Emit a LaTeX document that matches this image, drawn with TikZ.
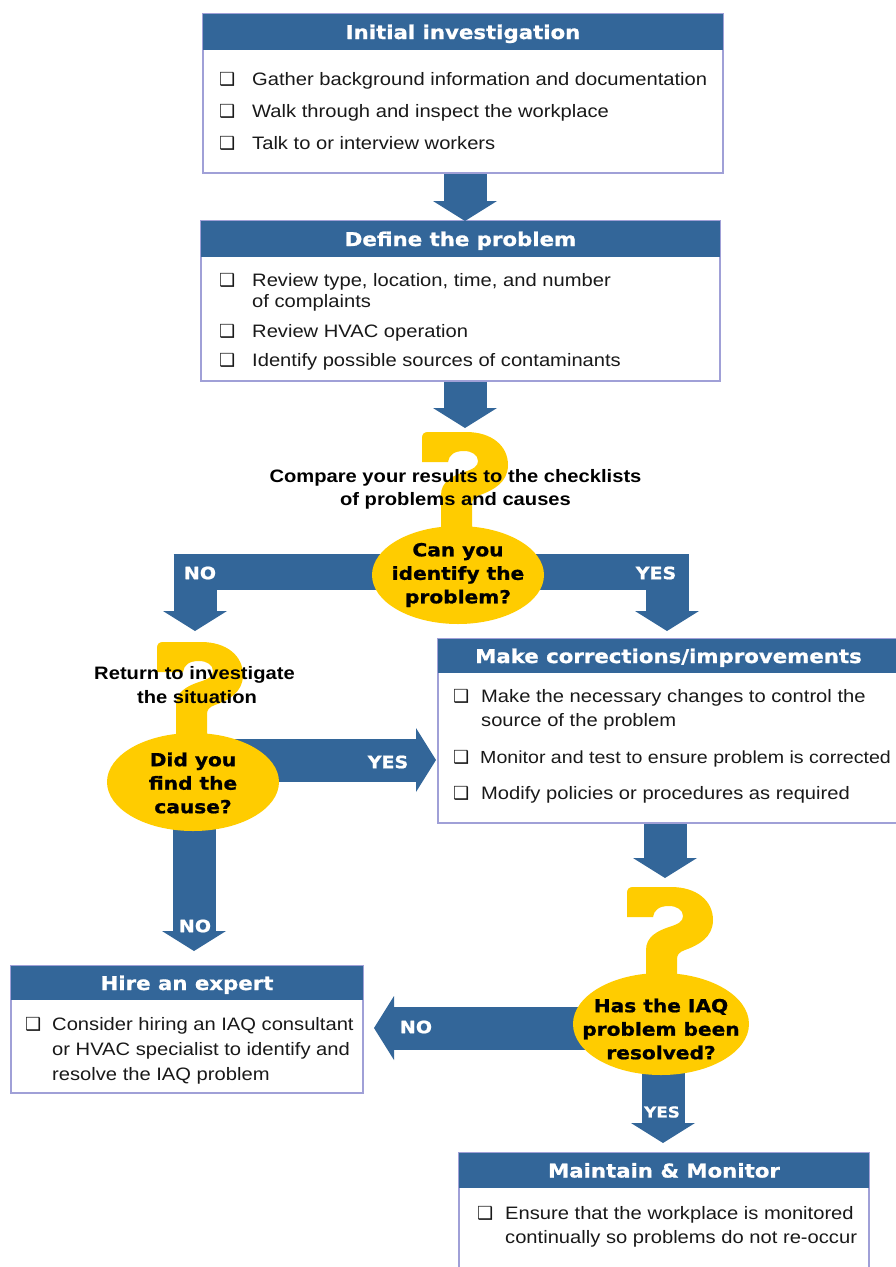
\documentclass[tikz,border=0pt]{standalone}
\usepackage{fontspec}
\setmainfont{Liberation Sans}[FakeStretch=1.12]
\newfontfamily\hdfont{DejaVu Sans}[FakeStretch=1.12, BoldFeatures={FakeBold=1}]
\newfontfamily\symfont{DejaVu Sans}
\usetikzlibrary{shapes.geometric,arrows.meta,calc}
\definecolor{hdblue}{RGB}{51,102,153}
\definecolor{qyellow}{RGB}{255,204,0}
\definecolor{boxline}{RGB}{160,160,215}
\definecolor{bodytext}{RGB}{25,25,25}
\tikzset{
 boxbody/.style={draw=boxline, line width=1.5pt, fill=white, rectangle, inner sep=0pt},
 boxhead/.style={fill=hdblue, rectangle, inner sep=0pt, text=white, font=\hdfont\bfseries\fontsize{19}{22}\selectfont, text height=15pt, text depth=1pt},
 item/.style={anchor=base west, inner sep=0pt, text=bodytext, font=\fontsize{18}{22}\selectfont},
 cb/.style={anchor=base west, inner sep=0pt, text=bodytext, font=\symfont\fontsize{18}{20}\selectfont},
 decision/.style={ellipse, fill=qyellow, inner sep=0pt},
 dectext/.style={align=center, inner sep=0pt, font=\hdfont\bfseries\fontsize{18}{23.5}\selectfont},
 qtext/.style={anchor=base, inner sep=0pt, text=black, font=\bfseries\fontsize{18}{23}\selectfont},
 blockarrow/.style={draw=hdblue, line width=43pt, line join=miter, -{Triangle[length=20pt,width=64pt,line width=0pt]}},
 band/.style={draw=hdblue, line width=36pt},
 lbl/.style={text=white, inner sep=0pt, font=\hdfont\bfseries\fontsize{17}{20}\selectfont},
 qmark/.pic={\fill[qyellow] (0,30) -- (0,6) .. controls (0,2) and (2,0) .. (6,0) -- (44,0)
   .. controls (70,0) and (86,14) .. (86,33) .. controls (86,50) and (72,58) .. (58,63)
   .. controls (52,65) and (50,68) .. (50,72) -- (50,98) -- (19,98) -- (19,63)
   .. controls (19,50) and (30,44) .. (42,40) .. controls (52,37) and (56,34) .. (56,29)
   .. controls (56,23) and (50,19) .. (42,19) .. controls (32,19) and (27,23) .. (26,30) -- cycle;}
}
\begin{document}
\begin{tikzpicture}[x=1pt,y=-1pt]
\useasboundingbox (0,0) rectangle (896,1267);
\clip (0,0) rectangle (896,1267);

% ---------- boxes ----------
\node[boxbody, minimum width=520pt, minimum height=159pt] (b1) at (463,93.5) {};
\node[boxhead, minimum width=520pt, minimum height=36pt] (h1) at (463,32) {Initial investigation};
\node[cb] (b1c1) at (219,85) {❑}; \node[item] (b1i1) at (252,85) {Gather background information and documentation};
\node[cb] (b1c2) at (219,117) {❑}; \node[item] (b1i2) at (252,117) {Walk through and inspect the workplace};
\node[cb] (b1c3) at (219,149) {❑}; \node[item] (b1i3) at (252,149) {Talk to or interview workers};

\node[boxbody, minimum width=519pt, minimum height=160pt] (b2) at (460.5,301) {};
\node[boxhead, minimum width=519pt, minimum height=36pt] (h2) at (460.5,239) {Define the problem};
\node[cb] (b2c1) at (219,286) {❑}; \node[item] (b2i1) at (252,286) {Review type, location, time, and number};
\node[item] (b2i1b) at (252,307) {of complaints};
\node[cb] (b2c2) at (219,337) {❑}; \node[item] (b2i2) at (252,337) {Review HVAC operation};
\node[cb] (b2c3) at (219,366) {❑}; \node[item] (b2i3) at (252,366) {Identify possible sources of contaminants};

\node[boxbody, minimum width=461pt, minimum height=184pt] (b3) at (668.5,731) {};
\node[boxhead, minimum width=461pt, minimum height=34pt] (h3) at (668.5,656) {Make corrections/improvements};
\node[cb] (b3c1) at (453,702) {❑}; \node[item] (b3i1) at (481,702) {Make the necessary changes to control the};
\node[item] (b3i1b) at (481,726) {source of the problem};
\node[cb] (b3c2) at (453,763) {❑}; \node[item, font=\fontsize{17.5}{22}\selectfont] (b3i2) at (480,763) {Monitor and test to ensure problem is corrected};
\node[cb] (b3c3) at (453,799) {❑}; \node[item] (b3i3) at (481,799) {Modify policies or procedures as required};

\node[boxbody, minimum width=352pt, minimum height=127pt] (b4) at (187,1029.5) {};
\node[boxhead, minimum width=352pt, minimum height=34pt] (h4) at (187,983) {Hire an expert};
\node[cb] (b4c1) at (25,1030) {❑}; \node[item] (b4i1) at (52,1030) {Consider hiring an IAQ consultant};
\node[item] (b4i2) at (52,1055) {or HVAC specialist to identify and};
\node[item] (b4i3) at (52,1080) {resolve the IAQ problem};

\node[boxbody, minimum width=410pt, minimum height=127pt] (b5) at (664,1216.5) {};
\node[boxhead, minimum width=410pt, minimum height=35pt] (h5) at (664,1170.5) {Maintain \& Monitor};
\node[cb] (b5c1) at (477,1219) {❑}; \node[item] (b5i1) at (505,1219) {Ensure that the workplace is monitored};
\node[item] (b5i2) at (505,1243) {continually so problems do not re-occur};

% ---------- decision nodes (positions) ----------
\coordinate (d1p) at (458,575);
\coordinate (d2p) at (193,782);
\coordinate (d3p) at (661,1024);

% ---------- arrows ----------
\coordinate (c1) at (465,221);
\draw[blockarrow] (b1.south -| c1) -- (c1);
\coordinate (c2) at (465,428);
\draw[blockarrow] (b2.south -| c2) -- (c2);

\coordinate (k3) at (195,554); \coordinate (c3) at (195,631);
\draw[band] ($(k3)+(-21.5,18)$) -- ($(d1p |- k3)+(0,18)$);
\draw[blockarrow] (k3) -- (c3);
\coordinate (k4) at (667,554); \coordinate (c4) at (667,631);
\draw[band] ($(k4)+(21.5,18)$) -- ($(d1p |- k4)+(0,18)$);
\draw[blockarrow] (k4) -- (c4);

\coordinate (c5) at (436,760);
\draw[blockarrow] (d2p |- c5) -- (c5);
\coordinate (c6) at (194,951);
\draw[blockarrow] (d2p -| c6) -- (c6);

\coordinate (c7) at (665,878);
\draw[blockarrow] (b3.south -| c7) -- (c7);

\coordinate (c8) at (374,1028);
\draw[blockarrow] (d3p |- c8) -- (c8);
\coordinate (c9) at (663,1143);
\draw[blockarrow] (d3p -| c9) -- (c9);

% ---------- question marks ----------
\pic at (422,432) {qmark};
\pic at (157,642) {qmark};
\pic at (627,887) {qmark};

\node[qtext] (q1a) at (455.5,482.5) {Compare your results to the checklists};
\node[qtext] (q1b) at (455.5,505.5) {of problems and causes};
\node[qtext] (q2a) at (194.5,679.5) {Return to investigate};
\node[qtext] (q2b) at (197,703.5) {the situation};

% ---------- decisions ----------
\node[decision, minimum width=172pt, minimum height=98pt] (d1) at (d1p) {};
\node[dectext] (d1t) at (458,575) {Can you\\identify the\\problem?};
\node[decision, minimum width=172pt, minimum height=98pt] (d2) at (d2p) {};
\node[dectext] (d2t) at (193,783) {Did you\\find the\\cause?};
\node[decision, minimum width=176pt, minimum height=102pt] (d3) at (d3p) {};
\node[dectext] (d3t) at (661,1029) {Has the IAQ\\problem been\\resolved?};

% ---------- arrow labels ----------
\node[lbl] (l1) at (200,573) {NO};
\node[lbl] (l2) at (656,573) {YES};
\node[lbl] (l3) at (388,762) {YES};
\node[lbl] (l4) at (195,926) {NO};
\node[lbl] (l5) at (416,1027) {NO};
\node[lbl, font=\hdfont\bfseries\fontsize{15}{18}\selectfont] (l6) at (662,1112) {YES};
\end{tikzpicture}
\end{document}
